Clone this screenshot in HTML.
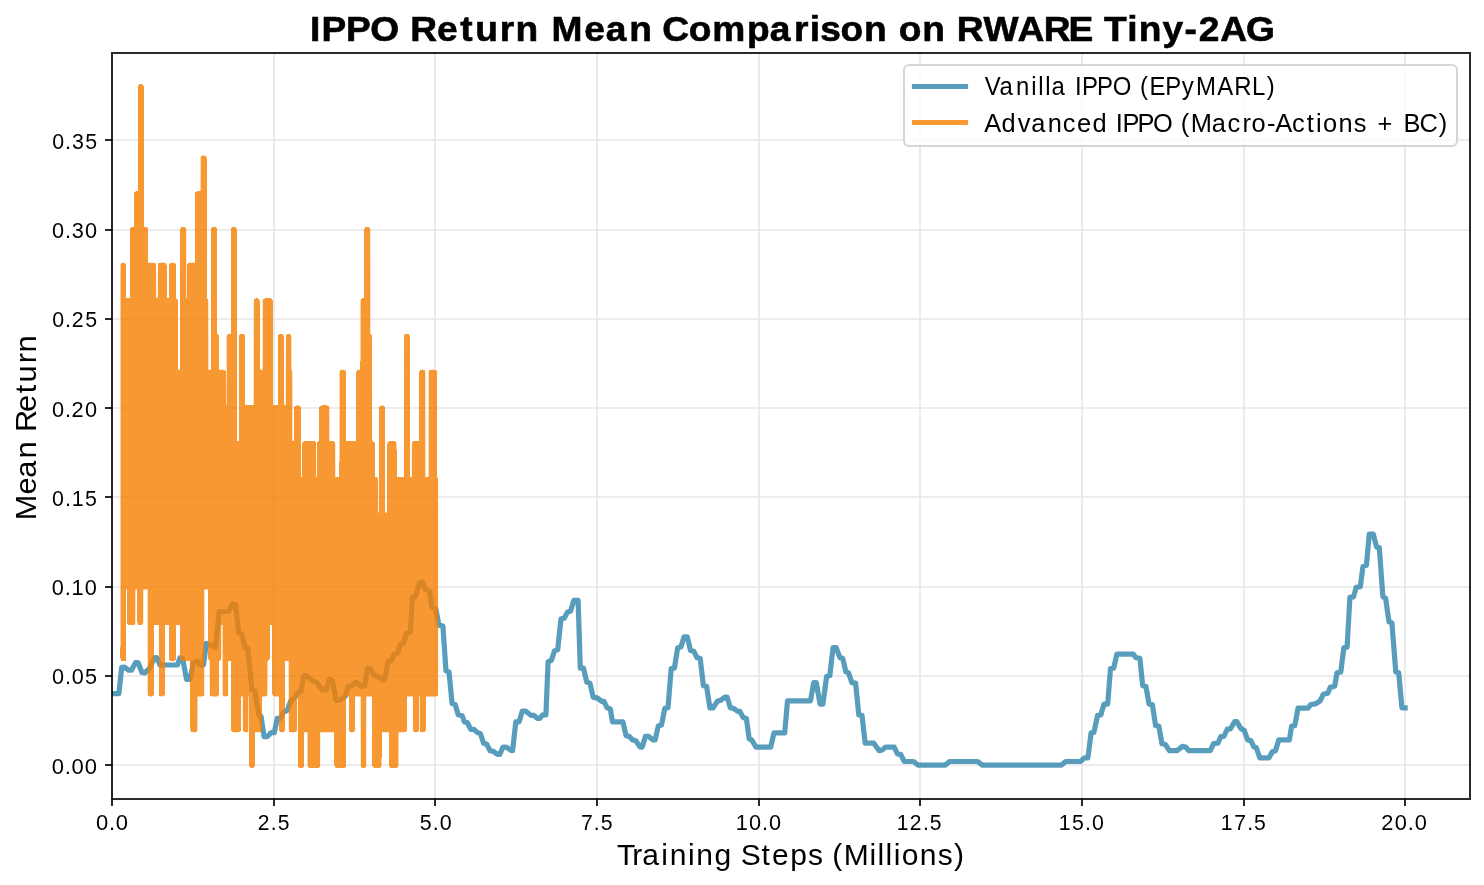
<!DOCTYPE html>
<html><head><meta charset="utf-8"><title>IPPO Return Mean Comparison on RWARE Tiny-2AG</title>
<style>html,body{margin:0;padding:0;background:#fff;width:1484px;height:885px;overflow:hidden}svg{display:block;will-change:transform}text{font-family:"Liberation Sans",sans-serif;fill:#000}</style></head><body>
<svg width="1484" height="885" viewBox="0 0 1484 885">
<rect width="1484" height="885" fill="#fff"/>
<defs><clipPath id="ax"><rect x="112" y="53" width="1358" height="746"/></clipPath></defs>
<path d="M112 53V799M274 53V799M435 53V799M597 53V799M759 53V799M920 53V799M1082 53V799M1244 53V799M1405 53V799M112 765H1470M112 676H1470M112 587H1470M112 497H1470M112 408H1470M112 319H1470M112 230H1470M112 140H1470" stroke="#b0b0b0" stroke-opacity="0.3" stroke-width="1.6667" fill="none"/>
<path d="M111 799h2v7h-2zM273 799h2v7h-2zM434 799h2v7h-2zM596 799h2v7h-2zM758 799h2v7h-2zM919 799h2v7h-2zM1081 799h2v7h-2zM1243 799h2v7h-2zM1404 799h2v7h-2zM105 764h7v2h-7zM105 675h7v2h-7zM105 586h7v2h-7zM105 496h7v2h-7zM105 407h7v2h-7zM105 318h7v2h-7zM105 229h7v2h-7zM105 139h7v2h-7z" fill="#000" fill-opacity="0.835"/>
<text transform="scale(0.9969 1)" x="96.23 109.29 116.21" y="830" font-size="22.08">0.0</text>
<text transform="scale(0.9551 1)" x="269.77 283.56 290.83" y="830" font-size="22.08">2.5</text>
<text transform="scale(0.9715 1)" x="431.95 445.36 452.53" y="830" font-size="22.08">5.0</text>
<text transform="scale(0.9614 1)" x="604.22 617.69 624.89" y="830" font-size="22.08">7.5</text>
<text transform="scale(0.9832 1)" x="748.25 761.87 775.07 782.13" y="830" font-size="22.08">10.0</text>
<text transform="scale(0.9535 1)" x="940.39 954.13 967.94 975.22" y="830" font-size="22.08">12.5</text>
<text transform="scale(0.9652 1)" x="1096.94 1110.72 1124.2 1131.44" y="830" font-size="22.08">15.0</text>
<text transform="scale(0.9580 1)" x="1274.4 1288.32 1301.84 1309.07" y="830" font-size="22.08">17.5</text>
<text transform="scale(0.9853 1)" x="1401.88 1415.64 1428.82 1435.85" y="830" font-size="22.08">20.0</text>
<text transform="scale(1.0153 1)" x="50.91 63.73 70.52 83.6" y="773.67" font-size="21.67">0.00</text>
<text transform="scale(0.9975 1)" x="52.09 65.09 72.05 85.29" y="684.43" font-size="21.67">0.05</text>
<text transform="scale(1.0021 1)" x="51.57 64.53 71.34 84.7" y="595.18" font-size="21.67">0.10</text>
<text transform="scale(0.9838 1)" x="52.86 66 73 86.52" y="505.94" font-size="21.67">0.15</text>
<text transform="scale(1.0042 1)" x="51.7 64.63 71.26 84.76" y="416.69" font-size="21.67">0.20</text>
<text transform="scale(0.9862 1)" x="52.87 65.98 72.78 86.45" y="327.45" font-size="21.67">0.25</text>
<text transform="scale(1.0028 1)" x="51.78 64.73 71.67 84.89" y="238.2" font-size="21.67">0.30</text>
<text transform="scale(0.9850 1)" x="52.94 66.07 73.19 86.56" y="148.96" font-size="21.67">0.35</text>
<path clip-path="url(#ax)" d="M112.29 693.6 L118.9 693.6 L121.7 667.4 L124.4 667.2 L128.5 670.2 L131.5 670.2 L135.5 662.6 L138 662.6 L142 672.5 L144.8 672.8 L149.3 668.8 L154.4 657.9 L156.6 657.5 L160 665 L177.5 665 L179.8 658 L182.6 658.6 L186.6 679.5 L190 679.5 L193.4 662.6 L197.3 660.9 L200.1 665.4 L203.5 664.9 L206.3 643.3 L210.2 645.1 L215.3 647.2 L219.3 611.5 L228.5 611.5 L232.6 604 L235.6 604.8 L238.7 632.9 L241.7 633.9 L244.8 647.2 L247.8 648.2 L251.9 689.9 L254.9 690.9 L259 715.3 L261 716.3 L264.1 736.7 L267.2 736.7 L271.2 732.6 L274.3 732.6 L277.3 718.4 L280.4 718.4 L283.4 712.3 L287.5 710.2 L290.6 701.1 L294.6 698 L297.7 692.9 L300.7 691.9 L303.8 675.6 L306.8 675.6 L310.9 679.7 L317 682.8 L322.1 689.9 L326.2 689.9 L329.2 679.3 L332.5 681 L336.1 700.4 L339.2 700.4 L345.3 696.3 L348.3 686.2 L352.4 685.2 L356.5 682.1 L360.5 686.2 L364.6 686.2 L367.6 667.9 L370.7 668.9 L373.8 675 L378.8 677 L382.9 680.1 L384.9 679 L388 661.7 L391 660.7 L394.1 654.6 L397.2 653.6 L400.2 644.5 L403.3 643.4 L406.3 633.3 L410.4 632.2 L412.4 597.6 L415.5 596.6 L419.5 582.4 L422.6 582.4 L425.6 589.5 L429.7 591.5 L431.8 606.8 L435.8 608.8 L438.9 625.1 L442.9 626.1 L446 670.9 L449 671.9 L452.1 703.5 L455.2 704.5 L458.2 714.7 L462.3 715.7 L464.3 721.7 L467.5 722.8 L470.7 729.3 L474 729.3 L477.2 732.5 L480.4 733.6 L483.6 743.2 L486.8 744.3 L490.1 750.7 L493.3 751.4 L497.6 754.4 L499.7 754.4 L503 747.1 L506.2 747.1 L511.5 750.7 L512.6 750.7 L515.8 721.8 L519.1 721.8 L522.3 711 L525.5 711 L530.9 715.3 L534.1 715.3 L537.3 718.5 L539.5 718.5 L542.7 714.9 L545.9 714.9 L548.1 661.6 L551.3 660.5 L554.5 650.9 L557.7 649.8 L561 618.7 L564.2 618.2 L567.4 612.2 L570.6 611.1 L573.8 600.4 L578.1 600.4 L580.3 668.1 L583.5 668.1 L586.7 682 L589.9 683.1 L593.2 697.1 L597.5 698.1 L601.8 701.3 L603.9 701.3 L607.1 707.8 L610.3 708.9 L612.5 721.8 L622.9 721.8 L626.1 735.7 L629.3 736.4 L632.6 740 L635.8 740.7 L640.1 747.1 L642.2 747.1 L645.4 736.4 L648.7 736.4 L653 740 L655.1 740 L658.3 726 L661.5 725 L664.8 708.4 L668 707.8 L671.2 668.5 L674.4 668.1 L677.7 647.7 L680.9 647 L684.1 636.9 L687.3 636.9 L690.5 650.4 L693.8 651.3 L697 657.7 L700.2 658.4 L703.4 685.7 L706.6 686.3 L709.9 707.8 L713.1 707.8 L717.4 701.3 L720.6 700.3 L724.9 697.1 L727.1 697.1 L730.3 707.8 L733.5 708.4 L737.8 711.4 L739.9 711.4 L743.2 717.5 L746.4 718.5 L749.2 738.9 L751.8 740 L756 747.1 L770.7 747.1 L774 732.9 L784.7 732.9 L787.5 700.9 L810.5 700.9 L813.7 682.7 L816.3 682.7 L820.1 704.1 L822.9 704.1 L826.6 676.6 L829.8 675.6 L833 647.7 L836.2 647.7 L839.9 657.7 L842.7 658.4 L845.9 671.9 L848.5 672.8 L851.9 682.7 L855.6 683.1 L858.8 714.9 L862 715.3 L865.2 743.2 L873.8 743.2 L879.2 750.7 L882.4 749.7 L885.6 747.1 L894.2 747.1 L897.5 754 L900.7 754.4 L904.3 761.5 L913.6 761.5 L917.9 765.1 L945.4 765.1 L949.7 761.5 L977.7 761.5 L982 765.1 L1061.4 765.1 L1065.7 761.5 L1080.4 761.5 L1084.7 757.8 L1087.9 757.8 L1091.1 732.9 L1093.9 732.5 L1097.6 715.3 L1100.8 714.9 L1104 704.1 L1107.7 704.1 L1110.5 668.5 L1113.7 668.1 L1116.9 654.1 L1133 654.1 L1136.2 657.7 L1139.9 658.4 L1142.7 685.7 L1145.9 686.3 L1149.1 704.1 L1152.4 704.6 L1155.6 725.6 L1158.8 726 L1162 743.7 L1165.2 744.3 L1169.5 750.7 L1177 750.7 L1182.4 746.4 L1185.6 747.1 L1188.9 750.7 L1210.3 750.7 L1213.6 743.7 L1217.9 743.2 L1220.7 736.7 L1224 736.3 L1227.2 729.2 L1230.4 728.8 L1234.7 721.7 L1236.8 721.7 L1241.1 728.8 L1244.3 730.3 L1247.6 739.9 L1250.8 740.6 L1254 747 L1256.2 747.5 L1259.8 757.8 L1269 757.8 L1272.3 751.7 L1275.5 750.7 L1278.7 739.9 L1289.4 739.9 L1291.6 726 L1294.8 725.6 L1298 708.2 L1307.7 708.2 L1310.9 704.5 L1315.2 703.9 L1320 701 L1323.4 694.2 L1327.9 693.1 L1330.2 687.4 L1334.7 686.3 L1337 672.7 L1340.8 672 L1343.8 647.8 L1347.1 647.1 L1349.9 597.4 L1353.5 596.9 L1356.2 587.4 L1360.3 586.7 L1363 566.4 L1366.4 565.2 L1369.3 534 L1373.2 534 L1376.6 547.1 L1379.3 547.6 L1382.9 596.9 L1385.6 598.1 L1389 621.8 L1391.9 622.9 L1395.8 672 L1398.7 672.7 L1401.9 707.8 L1405.11 707.8" fill="none" stroke="#2E86AB" stroke-opacity="0.8" stroke-width="5.2083" stroke-linejoin="round" stroke-linecap="square"/>
<g opacity="0.8" clip-path="url(#ax)" fill="#F77F00" stroke="#F77F00" stroke-linejoin="round"><path d="M123.2 265.4 L123.2 265.4 L123.3 301.1 L132.9 301.1 L133 229.7 L136.7 229.7 L136.8 194.01 L140.8 194.01 L140.9 86.91 L141 86.91 L141.1 229.7 L145.1 229.7 L145.2 265.4 L153.4 265.4 L153.5 301.1 L160.5 301.1 L160.6 265.4 L163.8 265.4 L163.9 301.1 L171.7 301.1 L171.8 265.4 L173.3 265.4 L173.4 301.1 L175.1 301.1 L175.2 372.49 L183 372.49 L183.1 229.7 L183.5 229.7 L183.6 301.1 L189.8 301.1 L189.9 265.4 L197.7 265.4 L197.8 194.01 L203.3 194.01 L203.4 158.31 L203.8 158.31 L203.9 301.1 L205.6 301.1 L205.7 372.49 L213.9 372.49 L214 229.7 L214 229.7 L214.1 336.8 L216.2 336.8 L216.3 372.49 L223 372.49 L223.1 408.19 L229.3 408.19 L229.4 336.8 L233.8 336.8 L233.9 229.7 L233.9 229.7 L234 443.89 L241.7 443.89 L241.8 336.8 L242.2 336.8 L242.3 408.19 L256.4 408.19 L256.5 301.1 L256.8 301.1 L256.9 372.49 L265.4 372.49 L265.5 301.1 L269.9 301.1 L270 408.19 L280.8 408.19 L280.9 336.8 L281 336.8 L281.1 408.19 L288.5 408.19 L288.6 336.8 L288.6 336.8 L288.7 372.49 L289.6 372.49 L289.7 443.89 L297 443.89 L297.1 408.19 L298.2 408.19 L298.3 479.59 L305 479.59 L305.1 443.89 L313.3 443.89 L313.4 479.59 L319.6 479.59 L319.7 443.89 L321.9 443.89 L322 408.19 L326.6 408.19 L326.7 443.89 L332.5 443.89 L332.6 479.59 L342.2 479.59 L342.3 372.49 L343.1 372.49 L343.2 443.89 L359.1 443.89 L359.2 372.49 L363.2 372.49 L363.3 301.1 L367 301.1 L367.1 229.7 L367.5 229.7 L367.6 336.8 L369.3 336.8 L369.4 443.89 L372 443.89 L372.1 479.59 L375.4 479.59 L375.5 515.29 L381.8 515.29 L381.9 408.19 L382.2 408.19 L382.3 515.29 L390.1 515.29 L390.2 443.89 L393.8 443.89 L393.9 479.59 L406.6 479.59 L406.7 336.8 L407 336.8 L407.1 479.59 L414.5 479.59 L414.6 443.89 L422 443.89 L422.1 372.49 L422.6 372.49 L422.7 479.59 L431.3 479.59 L431.4 372.49 L434.2 372.49 L434.3 479.59 L435.4 479.59 L435.4 693.77 L423 693.77 L422.9 729.47 L422.5 729.47 L422.4 693.77 L416.2 693.77 L416.1 729.47 L415.7 729.47 L415.6 693.77 L404.2 693.77 L404.1 729.47 L395.8 729.47 L395.7 765.17 L392 765.17 L391.9 729.47 L378.9 729.47 L378.8 765.17 L375.1 765.17 L375 693.77 L363.6 693.77 L363.5 765.17 L363.5 765.17 L363.4 693.77 L352.4 693.77 L352.3 729.47 L351.7 729.47 L351.6 693.77 L343.2 693.77 L343.1 765.17 L337.2 765.17 L337.1 729.47 L317.5 729.47 L317.4 765.17 L310.3 765.17 L310.2 729.47 L301.4 729.47 L301.3 765.17 L300.7 765.17 L300.6 693.77 L294.4 693.77 L294.3 729.47 L291.5 729.47 L291.4 658.08 L282.2 658.08 L282.1 729.47 L282 729.47 L281.9 693.77 L275.2 693.77 L275.1 622.38 L267.1 622.38 L267 658.08 L264.8 658.08 L264.7 693.77 L259.2 693.77 L259.1 729.47 L252.1 729.47 L252 765.17 L252 765.17 L251.9 693.77 L245.7 693.77 L245.6 729.47 L245.6 729.47 L245.5 693.77 L238.4 693.77 L238.3 729.47 L233.9 729.47 L233.8 658.08 L225.6 658.08 L225.5 622.38 L225.5 622.38 L225.4 693.77 L225.4 693.77 L225.3 622.38 L218.6 622.38 L218.5 658.08 L216.3 658.08 L216.2 693.77 L212.5 693.77 L212.4 658.08 L210.9 658.08 L210.8 586.68 L201.6 586.68 L201.5 693.77 L194.8 693.77 L194.7 729.47 L193.2 729.47 L193.1 658.08 L183.1 658.08 L183 622.38 L173.4 622.38 L173.3 658.08 L171.8 658.08 L171.7 622.38 L162.1 622.38 L162 693.77 L161.7 693.77 L161.6 622.38 L151.3 622.38 L151.2 693.77 L150.4 693.77 L150.3 586.68 L140.6 586.68 L140.5 622.38 L140.2 622.38 L140.1 586.68 L132.7 586.68 L132.6 622.38 L130 622.38 L129.9 586.68 L123.3 586.68 L123.2 658.08 L123.2 658.08Z" stroke-width="5.4"/><path d="M123.2 265.4 L123.2 265.4 L123.3 301.1 L132.9 301.1 L133 229.7 L136.7 229.7 L136.8 194.01 L140.8 194.01 L140.9 86.91 L141 86.91 L141.1 229.7 L145.1 229.7 L145.2 265.4 L153.4 265.4 L153.5 301.1 L160.5 301.1 L160.6 265.4 L163.8 265.4 L163.9 301.1 L171.7 301.1 L171.8 265.4 L173.3 265.4 L173.4 301.1 L175.1 301.1 L175.2 372.49 L183 372.49 L183.1 229.7 L183.5 229.7 L183.6 301.1 L189.8 301.1 L189.9 265.4 L197.7 265.4 L197.8 194.01 L203.3 194.01 L203.4 158.31 L203.8 158.31 L203.9 301.1 L205.6 301.1 L205.7 372.49 L213.9 372.49 L214 229.7 L214 229.7 L214.1 336.8 L216.2 336.8 L216.3 372.49 L223 372.49 L223.1 408.19 L229.3 408.19 L229.4 336.8 L233.8 336.8 L233.9 229.7 L233.9 229.7 L234 443.89 L241.7 443.89 L241.8 336.8 L242.2 336.8 L242.3 408.19 L256.4 408.19 L256.5 301.1 L256.8 301.1 L256.9 372.49 L265.4 372.49 L265.5 301.1 L269.9 301.1 L270 408.19 L280.8 408.19 L280.9 336.8 L281 336.8 L281.1 408.19 L288.5 408.19 L288.6 336.8 L288.6 336.8 L288.7 372.49 L289.6 372.49 L289.7 443.89 L297 443.89 L297.1 408.19 L298.2 408.19 L298.3 479.59 L305 479.59 L305.1 443.89 L313.3 443.89 L313.4 479.59 L319.6 479.59 L319.7 443.89 L321.9 443.89 L322 408.19 L326.6 408.19 L326.7 443.89 L332.5 443.89 L332.6 479.59 L342.2 479.59 L342.3 372.49 L343.1 372.49 L343.2 443.89 L359.1 443.89 L359.2 372.49 L363.2 372.49 L363.3 301.1 L367 301.1 L367.1 229.7 L367.5 229.7 L367.6 336.8 L369.3 336.8 L369.4 443.89 L372 443.89 L372.1 479.59 L375.4 479.59 L375.5 515.29 L381.8 515.29 L381.9 408.19 L382.2 408.19 L382.3 515.29 L390.1 515.29 L390.2 443.89 L393.8 443.89 L393.9 479.59 L406.6 479.59 L406.7 336.8 L407 336.8 L407.1 479.59 L414.5 479.59 L414.6 443.89 L422 443.89 L422.1 372.49 L422.6 372.49 L422.7 479.59 L431.3 479.59 L431.4 372.49 L434.2 372.49 L434.3 479.59 L435.4 479.59 L435.4 693.77 L423 693.77 L422.9 729.47 L422.5 729.47 L422.4 693.77 L416.2 693.77 L416.1 729.47 L415.7 729.47 L415.6 693.77 L404.2 693.77 L404.1 729.47 L395.8 729.47 L395.7 765.17 L392 765.17 L391.9 729.47 L378.9 729.47 L378.8 765.17 L375.1 765.17 L375 693.77 L363.6 693.77 L363.5 765.17 L363.5 765.17 L363.4 693.77 L352.4 693.77 L352.3 729.47 L351.7 729.47 L351.6 693.77 L343.2 693.77 L343.1 765.17 L337.2 765.17 L337.1 729.47 L317.5 729.47 L317.4 765.17 L310.3 765.17 L310.2 729.47 L301.4 729.47 L301.3 765.17 L300.7 765.17 L300.6 693.77 L294.4 693.77 L294.3 729.47 L291.5 729.47 L291.4 658.08 L282.2 658.08 L282.1 729.47 L282 729.47 L281.9 693.77 L275.2 693.77 L275.1 622.38 L267.1 622.38 L267 658.08 L264.8 658.08 L264.7 693.77 L259.2 693.77 L259.1 729.47 L252.1 729.47 L252 765.17 L252 765.17 L251.9 693.77 L245.7 693.77 L245.6 729.47 L245.6 729.47 L245.5 693.77 L238.4 693.77 L238.3 729.47 L233.9 729.47 L233.8 658.08 L225.6 658.08 L225.5 622.38 L225.5 622.38 L225.4 693.77 L225.4 693.77 L225.3 622.38 L218.6 622.38 L218.5 658.08 L216.3 658.08 L216.2 693.77 L212.5 693.77 L212.4 658.08 L210.9 658.08 L210.8 586.68 L201.6 586.68 L201.5 693.77 L194.8 693.77 L194.7 729.47 L193.2 729.47 L193.1 658.08 L183.1 658.08 L183 622.38 L173.4 622.38 L173.3 658.08 L171.8 658.08 L171.7 622.38 L162.1 622.38 L162 693.77 L161.7 693.77 L161.6 622.38 L151.3 622.38 L151.2 693.77 L150.4 693.77 L150.3 586.68 L140.6 586.68 L140.5 622.38 L140.2 622.38 L140.1 586.68 L132.7 586.68 L132.6 622.38 L130 622.38 L129.9 586.68 L123.3 586.68 L123.2 658.08 L123.2 658.08Z" stroke-width="5.4" shape-rendering="crispEdges"/><rect stroke="none" shape-rendering="crispEdges" x="120.6" y="655.47" width="5.21" height="5.21"/></g>
<path d="M111 52h2v748h-2zM1469 52h2v748h-2zM111 52h1360v2h-1360zM111 798h1360v2h-1360z" fill="#000" fill-opacity="0.835"/>
<rect x="904" y="65" width="553" height="81" rx="5" ry="5" fill="#fff" fill-opacity="0.8" stroke="#ccc" stroke-opacity="0.8" stroke-width="2.0833"/>
<path d="M914.5 86.5 H965.5" stroke="#2E86AB" stroke-opacity="0.8" stroke-width="5.2083" stroke-linecap="square"/>
<path d="M914.5 122.5 H965.5" stroke="#F77F00" stroke-opacity="0.8" stroke-width="5.2083" stroke-linecap="square"/>
<text transform="scale(0.9206 1)" x="1069.77 1085.68 1103.64 1120.31 1127.84 1135.39 1142.17 1156.63 1167.72 1175.34 1191.71 1208.67 1228.89 1238.41 1248.55 1265.85 1283.75 1299.18 1322.33 1340.82 1360.13 1375.92" y="94.52" font-size="26">Vanilla IPPO (EPyMARL)</text>
<text transform="scale(0.9775 1)" x="1006.96 1024.59 1041.17 1054.9 1071.84 1087.35 1101.87 1117.64 1132.1 1141.44 1148.3 1163.72 1179.62 1199.85 1207.93 1218.11 1239.63 1255.87 1271.14 1280.3 1296.15 1304.65 1321.79 1336.96 1346.33 1353.35 1369.33 1384.95 1397.95 1409.19 1424.38 1435.69 1452.06 1471.83" y="131.52" font-size="26">Advanced IPPO (Macro-Actions + BC)</text>
<text transform="scale(1.0330 1)" x="300.21 311.28 334.96 358.32 386.32 397.06 422.95 445.66 460.02 483.9 499 520.99 533.79 565.65 586.46 609.12 631.11 641.22 666.66 689.57 723.17 745.22 768.71 783.85 794.14 813.69 836.32 858.31 870.14 892.77 914.76 926.25 952.17 985.08 1010.32 1034.27 1058.28 1068.77 1091.36 1102.4 1125.26 1146.67 1160.55 1181.36 1206.08" y="40.52" font-size="36" font-weight="bold" stroke="#000" stroke-width="0.6">IPPO Return Mean Comparison on RWARE Tiny-2AG</text>
<text transform="scale(1.0293 1)" x="599.43 614.36 623.98 642.51 650.6 668.31 676.39 694.1 710.32 719.77 739.74 750.07 767.88 785.07 799.65 808.45 819.64 844.68 852.53 860.39 868.27 875.98 893.66 910.95 926.81" y="864.52" font-size="29.17">Training Steps (Millions)</text>
<text transform="translate(35.52 517.2) rotate(-90) scale(1.0153 1)" x="-3.05 22.39 38.86 57.89 74.76 83.94 103.61 122.14 132.66 151.63 162.26" y="0" font-size="30.33">Mean Return</text>
</svg>
</body></html>
